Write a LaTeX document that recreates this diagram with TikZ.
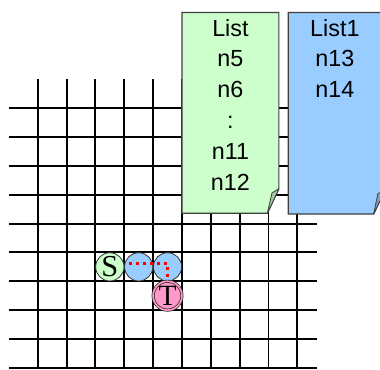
\documentclass[tikz,border=0pt]{standalone}
\usepackage{fontspec}
\setmainfont{Liberation Sans}
\newfontfamily\letterfont{Liberation Serif}
\usetikzlibrary{calc}
\definecolor{notegreen}{HTML}{CCFFCC}
\definecolor{noteblue}{HTML}{99CCFF}
\definecolor{flapgreen}{HTML}{A3C7A3}
\definecolor{flapblue}{HTML}{7BA3C9}
\definecolor{cellpink}{HTML}{FF99CC}
\tikzset{
    gridline/.style={
        line width=1.9pt, draw=black
    },
    note_green/.style={
        draw=black!75, line width=1.2pt, fill=notegreen
    },
    note_blue/.style={
        draw=black!75, line width=1.2pt, fill=noteblue
    },
    flap_green/.style={
        draw=black!75, line width=0.8pt, fill=flapgreen, line join=round
    },
    flap_blue/.style={
        draw=black!75, line width=0.8pt, fill=flapblue, line join=round
    },
    list_text/.style={
        anchor=base, inner sep=0pt, text width=3cm, align=center,
        font=\fontsize{23}{30.4}\selectfont
    },
    cell_green/.style={
        circle, draw=black!80, fill=notegreen, minimum size=0.98cm, inner sep=0pt,
        line width=0.8pt, font=\letterfont\fontsize{30}{30}\selectfont
    },
    cell_blue/.style={
        circle, draw=black!80, fill=noteblue, minimum size=0.98cm, inner sep=0pt,
        line width=0.8pt
    },
    cell_pink/.style={
        circle, draw=black!85, double=cellpink, double distance=1.6pt, fill=cellpink,
        minimum size=1cm, inner sep=0pt, line width=0.7pt,
        font=\letterfont\fontsize{29}{29}\selectfont
    },
    route/.style={
        draw=red, line width=3pt, dash pattern=on 3pt off 3.8pt
    }
}
\begin{document}
\begin{tikzpicture}
    \useasboundingbox (-1.307, -0.042) rectangle (11.865, 12.75);

    % grid
    \foreach \i in {0,...,9} {
        \draw[gridline] (-1, \i) -- (9.69, \i);
        \draw[gridline] (\i, 0) -- (\i, 10);
    }

    % cells
    \node[cell_green] (s) at (2.5, 3.5) {S};
    \node[cell_blue] (b1) at (3.5, 3.5) {};
    \node[cell_blue] (b2) at (4.5, 3.5) {};
    \node[cell_pink] (t) at (4.5, 2.5) {T};
    \draw[route] ($(b1.center)+(-0.33, 0.1)$) -| ($(b2.south)+(0, 0.1)$);

    % lists
    \draw[note_green] (5.0, 12.32) -- (8.36, 12.32) -- (8.36, 6.21) -- (7.96, 5.355) -- (5.0, 5.355) -- cycle;
    \draw[flap_green] (7.96, 5.355) -- (8.12, 6.06) -- (8.36, 6.21) -- cycle;
    \draw[note_blue] (8.686, 12.32) -- (12.046, 12.32) -- (12.046, 6.18) -- (11.646, 5.33) -- (8.686, 5.33) -- cycle;
    \draw[flap_blue] (11.646, 5.33) -- (11.79, 6.03) -- (12.046, 6.18) -- cycle;

    \node[list_text] (list) at (6.68, 11.50) {List\\n5\\n6\\:\\n11\\n12};
    \node[list_text] (list1) at (10.30, 11.50) {List1\\n13\\n14};
\end{tikzpicture}
\end{document}
